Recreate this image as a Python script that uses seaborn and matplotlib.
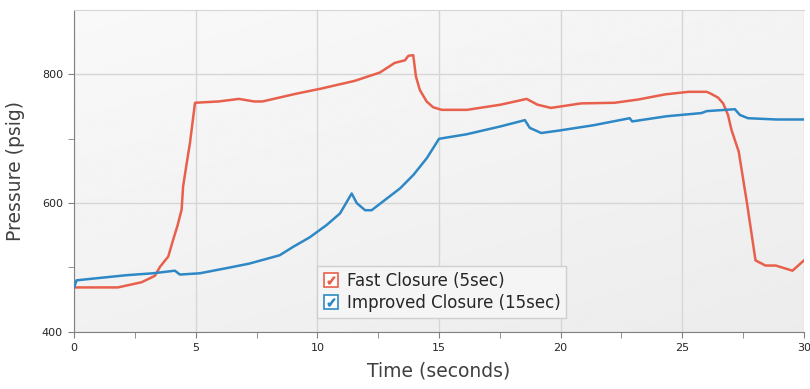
import numpy as np
import pandas as pd
import matplotlib
matplotlib.use("Agg")
import matplotlib.pyplot as plt
from matplotlib.lines import Line2D
import seaborn as sns

# Fast closure (5 sec)
fast_t = [0.0, 1.8, 2.77, 3.32, 3.53, 3.87, 4.07, 4.25, 4.42, 4.48, 4.62, 4.76, 4.97,
          5.94, 6.77, 7.4, 7.74, 9.12, 10.15, 11.53, 12.57, 13.18, 13.6, 13.74,
          13.94, 14.05, 14.21, 14.49, 14.76, 15.11, 16.15, 17.53, 18.6, 19.05, 19.6,
          20.84, 22.22, 23.18, 24.29, 25.25, 26.0, 26.13, 26.47, 26.68, 26.88, 27.02,
          27.32, 27.66, 28.01, 28.42, 28.84, 29.53, 30.0]
fast_p = [469, 469, 477, 487, 501, 517, 543, 565, 590, 626, 660, 693, 756,
          758, 762, 758, 758, 770, 778, 790, 803, 818, 822, 829,
          830, 797, 776, 758, 749, 745, 745, 753, 762, 753, 748,
          755, 756, 761, 769, 773, 773, 771, 764, 755, 737, 714,
          680, 600, 511, 503, 503, 495, 511]

# Improved closure (15 sec)
slow_t = [0.0, 0.1, 0.6, 2.15, 3.25, 4.14, 4.35, 5.17, 6.27, 7.2, 8.45, 9.0, 9.69,
          10.38, 10.93, 11.41, 11.62, 11.96, 12.23, 12.78, 13.4, 13.95, 14.5, 15.0,
          16.13, 17.5, 18.53, 18.73, 19.2, 19.97, 21.34, 22.84, 22.94, 24.35, 25.79,
          26.0, 27.16, 27.37, 27.7, 28.87, 30.0]
slow_p = [469, 480, 482, 488, 491, 495, 489, 491, 499, 506, 519, 532, 547,
          566, 584, 615, 600, 589, 589, 605, 623, 644, 670, 700,
          707, 719, 729, 717, 709, 713, 721, 732, 727, 735, 740,
          743, 746, 737, 732, 730, 730]

labels = ["Fast Closure (5sec)", "Improved Closure (15sec)"]
colors = ["#E8604C", "#2E88C6"]

df = pd.concat([
    pd.DataFrame({"time": fast_t, "pressure": fast_p, "case": labels[0]}),
    pd.DataFrame({"time": slow_t, "pressure": slow_p, "case": labels[1]}),
])

sns.set_style("white")
plt.rcParams["font.family"] = ["DejaVu Sans"]

fig = plt.figure(figsize=(8.1, 3.89), dpi=100)
ax = fig.add_axes([0.0915, 0.147, 0.901, 0.827])

# soft gray gradient background
gx, gy = np.meshgrid(np.linspace(0, 1, 200), np.linspace(0, 1, 200))
grad = 0.975 - 0.05 * (0.6 * gy + 0.4 * gx)
ax.imshow(grad, extent=[0, 1, 0, 1], transform=ax.transAxes, cmap="gray",
          vmin=0, vmax=1, aspect="auto", zorder=0, origin="upper")

sns.lineplot(data=df, x="time", y="pressure", hue="case", palette=colors,
             linewidth=1.8, legend=False, ax=ax, zorder=3, sort=False,
             estimator=None)

ax.set_xlim(0, 30)
ax.set_ylim(400, 900)
ax.set_xticks([0, 5, 10, 15, 20, 25, 30])
ax.set_xticks(np.arange(2.5, 30, 5), minor=True)
ax.set_yticks([400, 600, 800])
ax.set_yticks([500, 700], minor=True)
ax.grid(True, which="major", color="#d6d6d6", linewidth=1, zorder=1)

ax.spines["right"].set_visible(False)
ax.spines["top"].set_color("#d6d6d6")
ax.spines["left"].set_color("#808080")
ax.spines["bottom"].set_color("#808080")
ax.tick_params(which="both", direction="out", length=4, color="#808080",
               labelsize=8, pad=4, bottom=True, left=True)

ax.set_xlabel("Time (seconds)", fontsize=13.5, color="#404040", labelpad=6)
ax.set_ylabel("Pressure (psig)", fontsize=13.5, color="#404040", labelpad=12)

handles = []
for c in colors:
    box = Line2D([], [], marker="s", markersize=10, markerfacecolor="white",
                 markeredgecolor=c, markeredgewidth=1.2, linestyle="none")
    chk = Line2D([], [], marker=r"$\checkmark$", markersize=5, color=c,
                 linestyle="none")
    handles.append((box, chk))
leg = ax.legend(handles, labels, loc="lower left", bbox_to_anchor=(0.322, 0.018),
                fontsize=12, frameon=True, fancybox=False, handlelength=0.9,
                handletextpad=0.5, borderpad=0.35, labelspacing=0.25)
leg.get_frame().set_facecolor("#f5f5f5")
leg.get_frame().set_edgecolor("#cfcfcf")
leg.get_frame().set_alpha(1)
leg.set_zorder(5)

fig.savefig("out.png", dpi=100)
